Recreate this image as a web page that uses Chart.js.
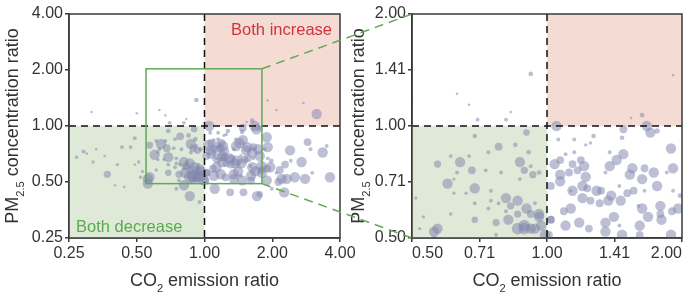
<!DOCTYPE html>
<html>
<head>
<meta charset="utf-8">
<script src="https://cdn.jsdelivr.net/npm/chart.js@4/dist/chart.umd.min.js"></script>
<style>
  html, body { margin: 0; padding: 0; background: #fff; }
  #wrap { position: relative; width: 692px; height: 302px; }
  #wrap canvas { position: absolute; left: 0; top: 0; }
</style>
</head>
<body>
<div id="wrap">
  <canvas id="leftChart" width="692" height="302"></canvas>
  <canvas id="rightChart" width="692" height="302"></canvas>
</div>
<script>
// CO2 emission ratio (x), PM2.5 concentration ratio (y), bubble size (r)
const co2Ratio = [
  0.90, 0.69, 0.78, 0.85, 0.91, 0.74, 0.67, 0.61, 0.64, 0.57, 0.87, 0.92, 0.68, 0.73, 0.79, 0.89,
  0.93, 0.96, 0.63, 0.62, 0.60, 0.69, 0.87, 0.51, 0.75, 0.66, 0.62, 0.81, 0.86, 0.75, 0.69, 0.78,
  0.83, 0.90, 0.94, 0.74, 0.92, 0.96, 0.81, 0.86, 0.77, 0.82, 0.69, 0.97, 0.86, 0.89, 0.89, 0.94,
  0.56, 0.57, 0.52, 0.61, 0.53, 0.99, 0.77, 0.96, 0.92, 1.02,
  1.05, 1.48, 1.67, 1.70, 1.76, 1.27, 1.47, 1.06, 1.15, 1.22, 1.25, 1.89, 1.48, 1.38, 1.15, 1.10,
  1.07, 1.19, 1.43, 1.04, 1.14, 1.21, 1.38, 1.55, 1.65, 1.91, 1.73, 1.85, 1.07, 1.12, 1.17, 1.22,
  1.35, 1.53, 1.63, 1.02, 1.07, 1.14, 1.20, 1.23, 1.29, 1.32, 1.39, 1.45, 1.51, 1.56, 1.65, 1.76,
  1.91, 1.98, 1.13, 1.20, 1.25, 1.31, 1.37, 1.46, 1.60, 1.79, 1.13, 1.09, 1.63, 1.90, 1.41, 1.68,
  1.79, 1.80, 1.02, 1.10, 1.18, 1.24, 1.35, 1.45, 1.61, 1.35, 1.47, 1.61, 1.89, 1.01, 1.96,
  0.92, 0.63, 0.67, 0.83, 0.70, 0.81, 0.50, 1.91, 1.63, 1.54,
  0.315, 0.29, 0.27, 0.30, 0.33, 0.32, 0.36, 0.37, 0.41, 0.43, 0.40, 0.44, 0.47, 0.49, 0.49,
  0.56, 0.75, 0.81, 0.86, 0.95,
  3.15, 2.09, 2.75, 2.40, 2.87, 2.96, 3.35, 3.49, 2.28, 2.70, 2.42, 2.16, 2.52, 2.80, 3.61, 3.01,
  2.20, 2.32, 2.26, 1.71, 1.11, 1.30, 1.49, 1.76, 1.99, 2.13, 2.09
];
const pm25Ratio = [
  0.96, 0.94, 0.88, 0.89, 0.85, 0.85, 0.83, 0.83, 0.80, 0.79, 0.80, 0.78, 0.76, 0.76, 0.75, 0.76,
  0.74, 0.75, 0.75, 0.72, 0.70, 0.68, 0.72, 0.64, 0.67, 0.66, 0.66, 0.64, 0.63, 0.63, 0.62, 0.62,
  0.61, 0.60, 0.62, 0.60, 0.58, 0.57, 0.59, 0.58, 0.55, 0.56, 0.56, 0.54, 0.53, 0.54, 0.53, 0.53,
  0.52, 0.53, 0.53, 0.58, 0.57, 0.51, 0.51, 0.58, 0.53, 0.56,
  1.00, 0.98, 1.00, 0.96, 0.97, 0.94, 0.93, 0.92, 0.92, 0.89, 0.90, 0.87, 0.84, 0.85, 0.85, 0.84,
  0.81, 0.81, 0.81, 0.79, 0.79, 0.78, 0.78, 0.77, 0.77, 0.77, 0.75, 0.75, 0.74, 0.75, 0.76, 0.73,
  0.75, 0.74, 0.72, 0.69, 0.71, 0.67, 0.69, 0.68, 0.67, 0.67, 0.65, 0.69, 0.66, 0.67, 0.67, 0.69,
  0.67, 0.65, 0.67, 0.64, 0.63, 0.62, 0.63, 0.63, 0.61, 0.61, 0.60, 0.59, 0.60, 0.59, 0.57, 0.57,
  0.58, 0.56, 0.56, 0.54, 0.55, 0.53, 0.55, 0.54, 0.54, 0.52, 0.51, 0.51, 0.51, 0.51, 0.60,
  1.38, 1.22, 1.14, 1.09, 1.04, 1.04, 1.17, 1.37, 1.07, 1.05,
  1.19, 0.73, 0.68, 0.71, 0.75, 0.64, 0.69, 0.55, 0.62, 0.77, 0.48, 0.47, 0.77, 0.86, 0.62,
  0.49, 0.46, 0.48, 0.42, 0.39,
  1.16, 1.22, 1.33, 0.74, 0.82, 0.75, 0.72, 0.78, 0.62, 0.64, 0.65, 0.58, 0.53, 0.52, 0.53, 0.56,
  0.52, 0.52, 0.44, 0.42, 0.46, 0.44, 0.44, 0.43, 0.46, 0.50, 0.56
];
const bubbleSize = [
  2.5, 1.8, 3, 1.8, 1.8, 1.5, 1.5, 1.5, 4, 2.8, 4, 1.5, 3, 1.5, 1.5, 2.8,
  2.8, 1.8, 1.5, 1.3, 4, 4, 1.5, 1.3, 1.5, 1.3, 1.3, 4, 4, 1.5, 1.5, 1.5,
  2.8, 4, 1.5, 1.5, 3, 4, 1.5, 2.8, 2.8, 4, 2.5, 4, 4.5, 4.5, 4.5, 4,
  4, 4, 1.3, 1.3, 1.3, 4, 1.5, 4, 4, 3,
  4, 3, 4, 4, 2, 1.8, 1.8, 1.5, 1.5, 1.3, 1.3, 4, 4, 1.5, 1.5, 1.5,
  3, 3, 4, 4, 3, 4, 4, 4, 3, 4, 4, 1.5, 4, 3, 3, 4,
  1.5, 4, 4, 3, 4, 4, 4, 3, 4, 3, 4, 1.5, 3, 3, 1.5, 4,
  1.5, 1.8, 1.3, 4, 3, 3, 4, 4, 1.5, 4, 4, 3, 4, 3, 4, 4,
  3, 4, 3, 4, 4, 3, 4, 1.5, 4, 4, 4, 3, 4, 3, 4,
  1.8, 1, 1, 1, 1.5, 1.5, 1, 1, 1.8, 1,
  1, 1.5, 1.3, 1, 1, 1.3, 1, 2.8, 1.3, 1.5, 1, 1, 1.5, 1.5, 1,
  4, 1.5, 4, 4, 1.5,
  4, 1, 1, 4, 3, 1.5, 4, 1.5, 3, 4, 1.5, 3, 4, 4, 4, 1.5,
  4, 4, 4, 4, 4, 3, 3, 2.5, 1.5, 3, 1.5
];

const leftTicks = [0.25, 0.5, 1, 2, 4];
const leftTickLabels = ['0.25', '0.50', '1.00', '2.00', '4.00'];
const rightTicks = [0.5, 0.7071, 1, 1.4142, 2];
const rightTickLabels = ['0.50', '0.71', '1.00', '1.41', '2.00'];
// region of the left panel that is shown enlarged on the right
const zoomBoxX = [0.55, 1.8];
const zoomBoxY = [0.49, 2.03];

const RADIUS_SCALE = 1.3;
const points = co2Ratio.map((x, i) => ({ x: x, y: pm25Ratio[i], r: bubbleSize[i] * RADIUS_SCALE }));

const FONT = '"Liberation Sans", Arial, Helvetica, sans-serif';
const AXIS_COLOR = '#3a3a3a';
const GREEN = '#62a957';

function drawSubText(ctx, parts, size) {
  // parts: [text, isSub]; drawn centred on (0,0) baseline
  let total = 0;
  const widths = parts.map(p => {
    ctx.font = (p[1] ? size * 0.62 : size) + 'px ' + FONT;
    const w = ctx.measureText(p[0]).width;
    total += w;
    return w;
  });
  let x = -total / 2;
  parts.forEach((p, i) => {
    ctx.font = (p[1] ? size * 0.62 : size) + 'px ' + FONT;
    ctx.fillText(p[0], x, p[1] ? size * 0.32 : 0);
    x += widths[i];
  });
}

const decorPlugin = {
  id: 'decor',
  beforeDatasetsDraw(chart, args, opts) {
    const { ctx, chartArea: a, scales: { x, y } } = chart;
    const x1 = x.getPixelForValue(1), y1 = y.getPixelForValue(1);
    ctx.save();
    ctx.fillStyle = '#f4dcd5';
    ctx.fillRect(x1, a.top, a.right - x1, y1 - a.top);
    ctx.fillStyle = '#dfe9d7';
    ctx.fillRect(a.left, y1, x1 - a.left, a.bottom - y1);
    ctx.restore();
  },
  afterDatasetsDraw(chart, args, opts) {
    const { ctx, chartArea: a, scales: { x, y } } = chart;
    const x1 = x.getPixelForValue(1), y1 = y.getPixelForValue(1);
    ctx.save();
    ctx.strokeStyle = '#111';
    ctx.lineWidth = 1.5;
    ctx.setLineDash([7, 5]);
    ctx.beginPath();
    ctx.moveTo(x1, a.top); ctx.lineTo(x1, a.bottom);
    ctx.moveTo(a.left, y1); ctx.lineTo(a.right, y1);
    ctx.stroke();
    ctx.setLineDash([]);
    if (opts.zoomBox) {
      const bx0 = x.getPixelForValue(zoomBoxX[0]), bx1 = x.getPixelForValue(zoomBoxX[1]);
      const by0 = y.getPixelForValue(zoomBoxY[0]), by1 = y.getPixelForValue(zoomBoxY[1]);
      ctx.strokeStyle = GREEN;
      ctx.lineWidth = 1.5;
      ctx.strokeRect(bx0, by1, bx1 - bx0, by0 - by1);
    }
    if (opts.labels) {
      ctx.font = '16.5px ' + FONT;
      ctx.textBaseline = 'alphabetic';
      ctx.fillStyle = '#d3323a';
      ctx.textAlign = 'right';
      ctx.fillText('Both increase', a.right - 8, a.top + 21);
      ctx.fillStyle = '#5aaa4e';
      ctx.textAlign = 'left';
      ctx.fillText('Both decrease', a.left + 7, a.bottom - 6);
    }
    // frame
    ctx.strokeStyle = AXIS_COLOR;
    ctx.lineWidth = 1.5;
    ctx.strokeRect(a.left, a.top, a.right - a.left, a.bottom - a.top);
    // axis titles with subscripts
    ctx.fillStyle = '#333';
    ctx.textAlign = 'left';
    ctx.textBaseline = 'alphabetic';
    ctx.save();
    ctx.translate((a.left + a.right) / 2, 286);
    drawSubText(ctx, [['CO', false], ['2', true], [' emission ratio', false]], 18);
    ctx.restore();
    ctx.save();
    ctx.translate(opts.yTitleX, (a.top + a.bottom) / 2);
    ctx.rotate(-Math.PI / 2);
    drawSubText(ctx, [['PM', false], ['2.5', true], [' concentration ratio', false]], 18);
    ctx.restore();
    ctx.restore();
  }
};

function axis(ticks, labels, min, max, horizontal, fixed, align) {
  return {
    type: 'logarithmic',
    min: min,
    max: max,
    grid: { display: true, drawOnChartArea: false, drawTicks: true, tickLength: 4, color: AXIS_COLOR, lineWidth: 1.5 },
    border: { display: true, color: AXIS_COLOR, width: 1.5 },
    ticks: {
      color: '#333',
      font: { family: FONT, size: 16 },
      padding: 2,
      align: align || 'center',
      maxRotation: 0,
      autoSkip: false,
      callback: (v, i) => labels[i]
    },
    afterBuildTicks: s => { s.ticks = ticks.map(v => ({ value: v })); },
    afterFit: s => {
      if (horizontal) { s.height = fixed; s.paddingLeft = 0; s.paddingRight = 0; }
      else { s.width = fixed; s.paddingTop = 0; s.paddingBottom = 0; }
    }
  };
}

function bubbleConfig(ticks, labels, min, max, padding, yWidth, xAlign, decor) {
  return {
    type: 'bubble',
    data: {
      datasets: [{
        data: points,
        backgroundColor: 'rgba(128, 134, 172, 0.52)',
        borderWidth: 0,
        clip: { left: 0, top: 0, right: 0, bottom: 0 }
      }]
    },
    options: {
      responsive: false,
      animation: false,
      events: [],
      layout: { padding: padding },
      scales: {
        x: axis(ticks, labels, min, max, true, 64, xAlign),
        y: axis(ticks, labels, min, max, false, yWidth)
      },
      plugins: {
        legend: { display: false },
        tooltip: { enabled: false },
        decor: decor
      }
    },
    plugins: [decorPlugin]
  };
}

const leftChart = new Chart(document.getElementById('leftChart'),
  bubbleConfig(leftTicks, leftTickLabels, 0.25, 4,
    { left: 0, top: 14, right: 352, bottom: 0 }, 69, 'center',
    { zoomBox: true, labels: true, yTitleX: 18 }));

const linkPlugin = {
  id: 'link',
  afterDraw(chart) {
    const { ctx, chartArea: a } = chart;
    const lx = leftChart.scales.x, ly = leftChart.scales.y;
    const bx = lx.getPixelForValue(zoomBoxX[1]);
    const byTop = ly.getPixelForValue(zoomBoxY[1]);
    const byBot = ly.getPixelForValue(zoomBoxY[0]);
    ctx.save();
    ctx.strokeStyle = GREEN;
    ctx.lineWidth = 1.5;
    ctx.setLineDash([9, 6]);
    ctx.beginPath();
    ctx.moveTo(bx, byTop); ctx.lineTo(a.left, a.top);
    ctx.moveTo(bx, byBot); ctx.lineTo(a.left, a.bottom);
    ctx.stroke();
    ctx.restore();
  }
};

const rightCfg = bubbleConfig(rightTicks, rightTickLabels, 0.5, 2,
  { left: 345, top: 14, right: 10, bottom: 0 }, 67, 'inner',
  { zoomBox: false, labels: false, yTitleX: 364 });
rightCfg.plugins.push(linkPlugin);
const rightChart = new Chart(document.getElementById('rightChart'), rightCfg);
</script>
</body>
</html>
